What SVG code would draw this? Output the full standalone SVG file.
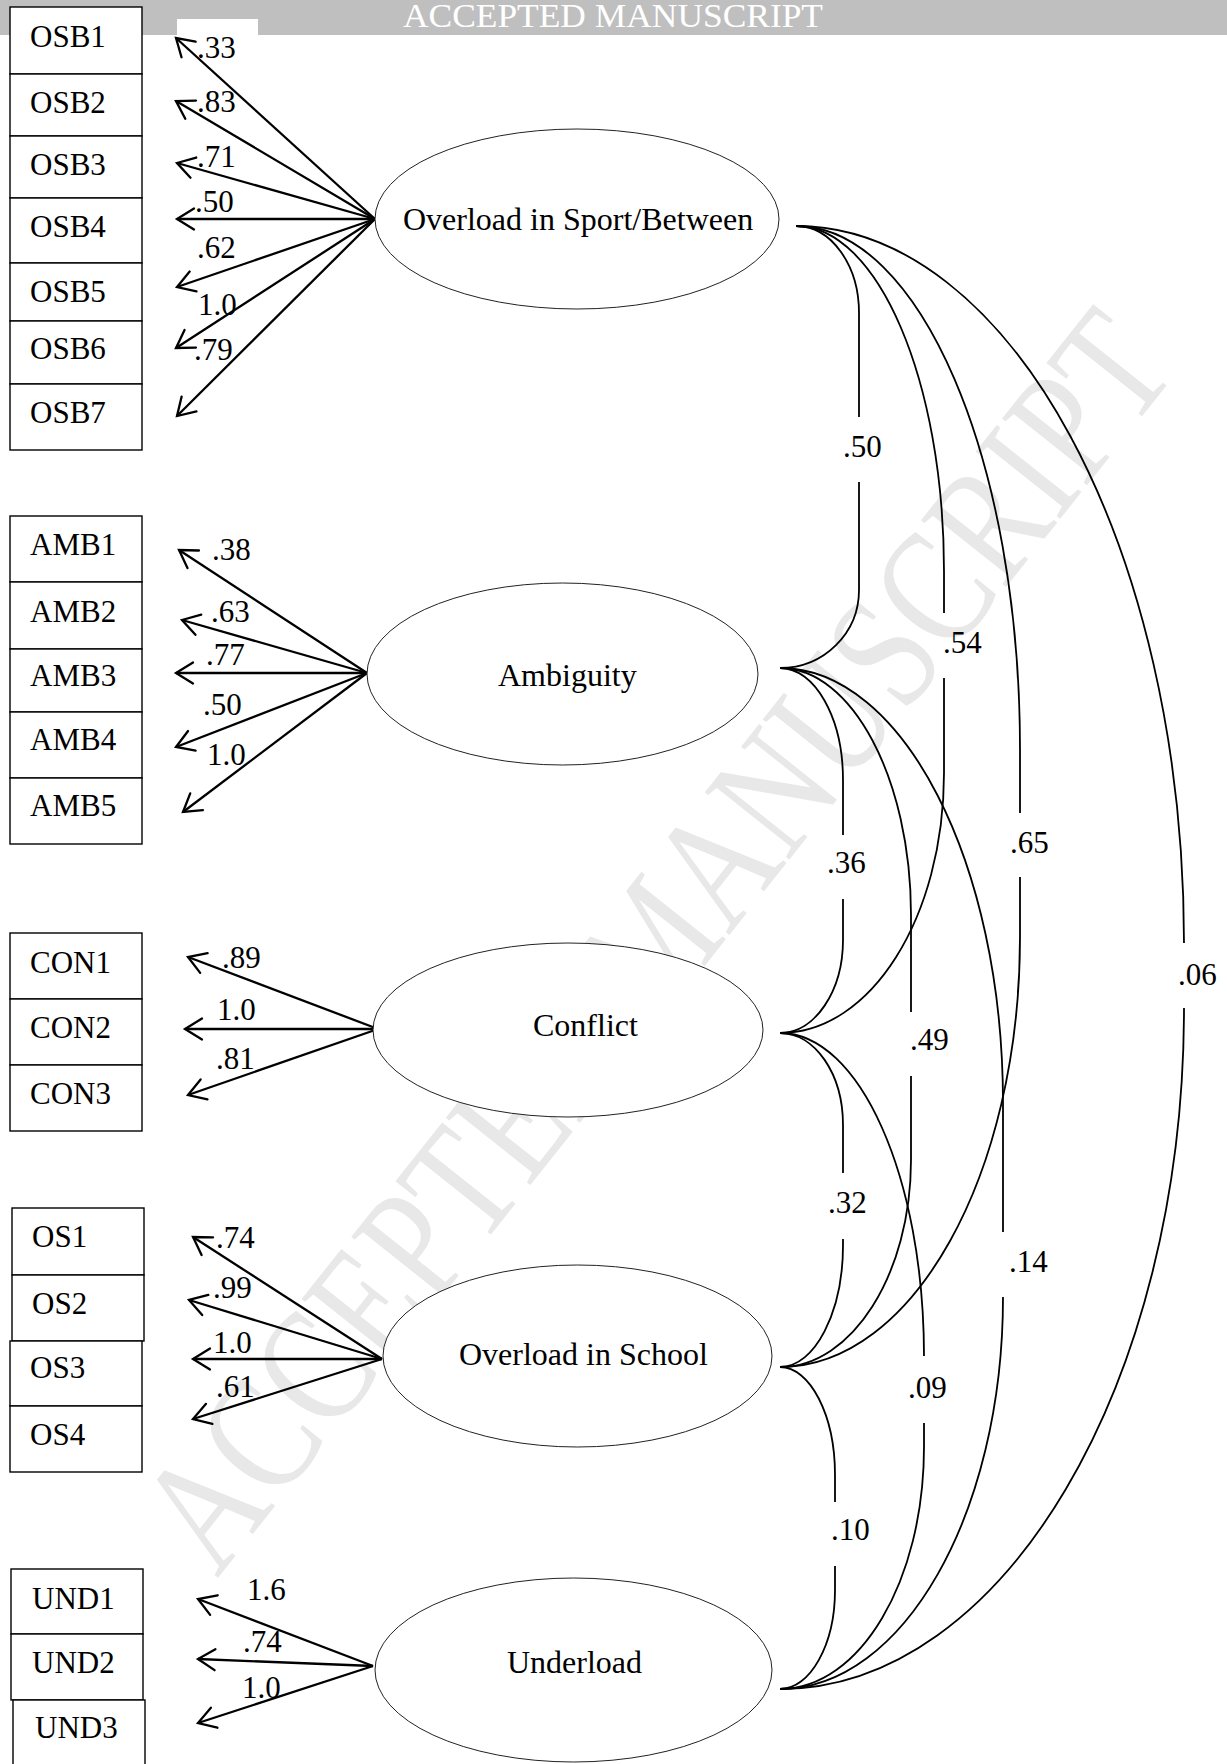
<svg xmlns="http://www.w3.org/2000/svg" width="1227" height="1764" viewBox="0 0 1227 1764">
<style>
  .t { font-family: "Liberation Serif", "Times New Roman", serif; font-size: 31px; fill: #000; }
  .ft { font-family: "Liberation Serif", "Times New Roman", serif; font-size: 32px; fill: #000; }
  .box { fill: #fff; stroke: #000; stroke-width: 1.4; }
  .lat { fill: #fff; stroke: #222; stroke-width: 1; }
  .ld { stroke: #000; stroke-width: 2.3; fill: none; marker-end: url(#ah); }
  .cv { stroke: #000; stroke-width: 1.8; fill: none; }
  .wm { font-family: "Liberation Serif", "Times New Roman", serif; font-size: 165px; fill: #e8e8e8; }
  .hd { font-family: "Liberation Serif", "Times New Roman", serif; font-size: 34px; fill: #fff; }
</style>
<defs>
  <marker id="ah" markerUnits="userSpaceOnUse" markerWidth="40" markerHeight="40" viewBox="-25 -20 30 40" refX="0" refY="0" orient="auto" overflow="visible">
    <path d="M-17,-10.5 L0,0 L-17,10.5" fill="none" stroke="#000" stroke-width="2.3" stroke-linecap="round"/>
  </marker>
</defs>
<rect x="0" y="0" width="1227" height="1764" fill="#fff"/>
<g id="watermark">
  <text class="wm" x="655" y="995" text-anchor="middle" textLength="1545" lengthAdjust="spacingAndGlyphs" transform="rotate(-51.5 655 940)">ACCEPTED MANUSCRIPT</text>
</g>
<g id="header">
  <rect x="0" y="0" width="1227" height="35" fill="#bfbfbf"/>
  <rect x="177" y="19" width="81" height="16" fill="#fff"/>
  <text class="hd" x="403" y="27" textLength="420" lengthAdjust="spacingAndGlyphs">ACCEPTED MANUSCRIPT</text>
</g>
<g id="connectors">
  <g id="loadings">
    <line class="ld" x1="375" y1="219" x2="176" y2="38"/>
    <line class="ld" x1="375" y1="219" x2="176" y2="101"/>
    <line class="ld" x1="375" y1="219" x2="177" y2="163"/>
    <line class="ld" x1="375" y1="219" x2="177" y2="219"/>
    <line class="ld" x1="375" y1="219" x2="177" y2="287"/>
    <line class="ld" x1="375" y1="219" x2="176" y2="348"/>
    <line class="ld" x1="375" y1="219" x2="177" y2="416"/>
    <line class="ld" x1="367" y1="673" x2="179" y2="550"/>
    <line class="ld" x1="367" y1="673" x2="182" y2="620"/>
    <line class="ld" x1="367" y1="673" x2="176" y2="673"/>
    <line class="ld" x1="367" y1="673" x2="176" y2="747"/>
    <line class="ld" x1="367" y1="673" x2="183" y2="812"/>
    <line class="ld" x1="378" y1="1029" x2="188" y2="957"/>
    <line class="ld" x1="378" y1="1029" x2="185" y2="1029"/>
    <line class="ld" x1="378" y1="1029" x2="188" y2="1095"/>
    <line class="ld" x1="382" y1="1359" x2="193" y2="1237"/>
    <line class="ld" x1="382" y1="1359" x2="189" y2="1300"/>
    <line class="ld" x1="382" y1="1359" x2="193" y2="1359"/>
    <line class="ld" x1="382" y1="1359" x2="193" y2="1419"/>
    <line class="ld" x1="373" y1="1666" x2="198" y2="1599"/>
    <line class="ld" x1="373" y1="1666" x2="198" y2="1659"/>
    <line class="ld" x1="373" y1="1666" x2="198" y2="1723"/>
  </g>
  <g id="loading-labels" class="t">
    <text x="197" y="58">.33</text>
    <text x="197" y="112">.83</text>
    <text x="197" y="167">.71</text>
    <text x="195" y="212">.50</text>
    <text x="197" y="258">.62</text>
    <text x="198" y="315">1.0</text>
    <text x="194" y="360">.79</text>
    <text x="212" y="560">.38</text>
    <text x="211" y="622">.63</text>
    <text x="206" y="665">.77</text>
    <text x="203" y="715">.50</text>
    <text x="207" y="765">1.0</text>
    <text x="222" y="968">.89</text>
    <text x="217" y="1020">1.0</text>
    <text x="216" y="1069">.81</text>
    <text x="216" y="1248">.74</text>
    <text x="213" y="1298">.99</text>
    <text x="213" y="1353">1.0</text>
    <text x="216" y="1397">.61</text>
    <text x="247" y="1600">1.6</text>
    <text x="243" y="1652">.74</text>
    <text x="242" y="1698">1.0</text>
  </g>
  <g id="correlations">
    <path class="cv" d="M796,226 C831,226 859,265 859,313 L859,417 M859,482 L859,590 C859,633 824,668 780,668"/>
    <path class="cv" d="M796,226 C878,226 944,381 944,571 L944,613 M944,678 L944,773 C944,917 871,1033 780,1033"/>
    <path class="cv" d="M796,226 C920,226 1020,460 1020,749 L1020,813 M1020,877 L1020,937 C1020,1175 913,1367 780,1367"/>
    <path class="cv" d="M796,226 C1010,226 1184,547 1184,943 M1184,1008 C1184,1384 1003,1689 780,1689"/>
    <path class="cv" d="M780,668 C815,668 843,718 843,780 L843,835 M843,899 L843,940 C843,991 815,1033 780,1033"/>
    <path class="cv" d="M780,668 C852,668 911,779 911,915 L911,1012 M911,1076 L911,1160 C911,1274 852,1367 780,1367"/>
    <path class="cv" d="M780,668 C903,668 1003,863 1003,1103 L1003,1232 M1003,1297 C1003,1514 903,1689 780,1689"/>
    <path class="cv" d="M780,1033 C815,1033 843,1074 843,1125 L843,1173 M843,1239 L843,1245 C843,1312 815,1367 780,1367"/>
    <path class="cv" d="M780,1033 C860,1033 924,1178 924,1356 M924,1423 L924,1447 C924,1581 860,1689 780,1689"/>
    <path class="cv" d="M780,1367 C810,1367 835,1415 835,1475 L835,1502 M835,1566 L835,1590 C835,1645 810,1689 780,1689"/>
  </g>
  <g id="correlation-labels" class="t">
    <text x="843" y="457">.50</text>
    <text x="943" y="653">.54</text>
    <text x="1010" y="853">.65</text>
    <text x="1178" y="985">.06</text>
    <text x="827" y="873">.36</text>
    <text x="910" y="1050">.49</text>
    <text x="828" y="1213">.32</text>
    <text x="1009" y="1272">.14</text>
    <text x="908" y="1398">.09</text>
    <text x="831" y="1540">.10</text>
  </g>
</g>
<g id="OSB1"><rect class="box" x="10" y="7" width="132" height="67"/><text class="t" x="30" y="47">OSB1</text></g>
<g id="OSB2"><rect class="box" x="10" y="74" width="132" height="62"/><text class="t" x="30" y="113">OSB2</text></g>
<g id="OSB3"><rect class="box" x="10" y="136" width="132" height="62"/><text class="t" x="30" y="175">OSB3</text></g>
<g id="OSB4"><rect class="box" x="10" y="198" width="132" height="65"/><text class="t" x="30" y="237">OSB4</text></g>
<g id="OSB5"><rect class="box" x="10" y="263" width="132" height="58"/><text class="t" x="30" y="302">OSB5</text></g>
<g id="OSB6"><rect class="box" x="10" y="321" width="132" height="63"/><text class="t" x="30" y="359">OSB6</text></g>
<g id="OSB7"><rect class="box" x="10" y="384" width="132" height="66"/><text class="t" x="30" y="423">OSB7</text></g>
<g id="AMB1"><rect class="box" x="10" y="516" width="132" height="66"/><text class="t" x="30" y="555">AMB1</text></g>
<g id="AMB2"><rect class="box" x="10" y="582" width="132" height="67"/><text class="t" x="30" y="622">AMB2</text></g>
<g id="AMB3"><rect class="box" x="10" y="649" width="132" height="63"/><text class="t" x="30" y="686">AMB3</text></g>
<g id="AMB4"><rect class="box" x="10" y="712" width="132" height="66"/><text class="t" x="30" y="750">AMB4</text></g>
<g id="AMB5"><rect class="box" x="10" y="778" width="132" height="66"/><text class="t" x="30" y="816">AMB5</text></g>
<g id="CON1"><rect class="box" x="10" y="933" width="132" height="66"/><text class="t" x="30" y="973">CON1</text></g>
<g id="CON2"><rect class="box" x="10" y="999" width="132" height="66"/><text class="t" x="30" y="1038">CON2</text></g>
<g id="CON3"><rect class="box" x="10" y="1065" width="132" height="66"/><text class="t" x="30" y="1104">CON3</text></g>
<g id="OS1"><rect class="box" x="12" y="1208" width="132" height="67"/><text class="t" x="32" y="1247">OS1</text></g>
<g id="OS2"><rect class="box" x="12" y="1275" width="132" height="66"/><text class="t" x="32" y="1314">OS2</text></g>
<g id="OS3"><rect class="box" x="10" y="1341" width="132" height="65"/><text class="t" x="30" y="1378">OS3</text></g>
<g id="OS4"><rect class="box" x="10" y="1406" width="132" height="66"/><text class="t" x="30" y="1445">OS4</text></g>
<g id="UND1"><rect class="box" x="11" y="1569" width="132" height="65"/><text class="t" x="32" y="1609">UND1</text></g>
<g id="UND2"><rect class="box" x="11" y="1634" width="132" height="66"/><text class="t" x="32" y="1673">UND2</text></g>
<g id="UND3"><rect class="box" x="13" y="1700" width="132" height="80"/><text class="t" x="35" y="1738">UND3</text></g>
<g id="F_OSB"><ellipse class="lat" cx="577" cy="219" rx="202" ry="90"/><text class="ft" x="403" y="230">Overload in Sport/Between</text></g>
<g id="F_AMB"><ellipse class="lat" cx="562.5" cy="674" rx="195.5" ry="91"/><text class="ft" x="498" y="686">Ambiguity</text></g>
<g id="F_CON"><ellipse class="lat" cx="568" cy="1030" rx="195" ry="87"/><text class="ft" x="533" y="1036">Conflict</text></g>
<g id="F_OS"><ellipse class="lat" cx="577.5" cy="1356" rx="194.5" ry="91"/><text class="ft" x="459" y="1365">Overload in School</text></g>
<g id="F_UND"><ellipse class="lat" cx="573.5" cy="1670" rx="198.5" ry="92"/><text class="ft" x="507" y="1673">Underload</text></g>
</svg>
